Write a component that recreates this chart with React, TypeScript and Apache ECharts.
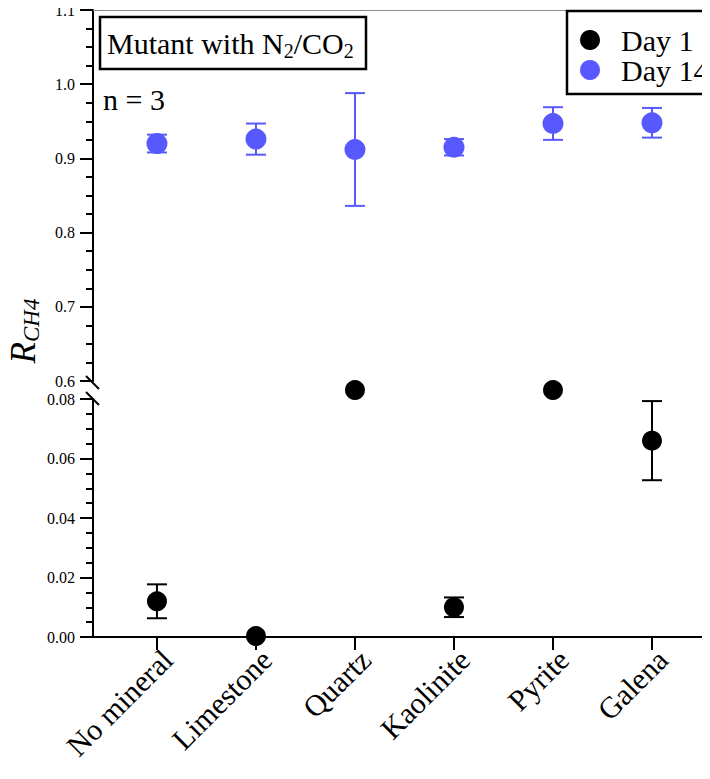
import React, { useEffect, useRef } from "react";
import * as echarts from "echarts";

const categories = ["No mineral", "Limestone", "Quartz", "Kaolinite", "Pyrite", "Galena"];
const categoryPositions = [1, 2, 3, 4, 5, 6];
// Day 1 (lower panel). Quartz and Pyrite sit on the axis break (off-scale).
const day1Mean = [0.012, 0.0003, 0.083, 0.01, 0.083, 0.066];
const day1Err = [0.0057, 0, 0, 0.0033, 0, 0.0133];
// Day 14 (upper panel)
const day14Mean = [0.92, 0.926, 0.912, 0.915, 0.947, 0.948];
const day14Err = [0.012, 0.021, 0.076, 0.011, 0.022, 0.02];
// axis ranges
const upperRange = [0.6, 1.1];
const upperStep = 0.1;
const lowerRange = [0, 0.08];
const lowerStep = 0.02;
const xRange = [0.354, 6.586];

const FONT = "'Liberation Serif', 'Times New Roman', Times, serif";
const BLUE = "#5858FF";
const BLACK = "#000000";

function errorBarSeries(name: string, color: string, mean: number[], err: number[], idx: number) {
  return {
    type: "custom",
    name,
    xAxisIndex: idx,
    yAxisIndex: idx,
    z: 1,
    clip: false,
    encode: { x: 0, y: 1 },
    data: categoryPositions.map((p, i) => [p, mean[i], err[i]]),
    renderItem: (params: any, api: any) => {
      const x = api.value(0);
      const y = api.value(1);
      const e = api.value(2);
      if (!e) return null;
      const t = api.coord([x, y + e]);
      const b = api.coord([x, y - e]);
      const w = 10;
      const st = { stroke: color, lineWidth: 2 };
      return {
        type: "group",
        children: [
          { type: "line", shape: { x1: t[0], y1: t[1], x2: b[0], y2: b[1] }, style: st },
          { type: "line", shape: { x1: t[0] - w, y1: t[1], x2: t[0] + w, y2: t[1] }, style: st },
          { type: "line", shape: { x1: b[0] - w, y1: b[1], x2: b[0] + w, y2: b[1] }, style: st },
        ],
      };
    },
  };
}

export default function App() {
  const ref = useRef<HTMLDivElement>(null);
  useEffect(() => {
    if (!ref.current) return;
    const chart = echarts.init(ref.current, null, { renderer: "svg" });
    const yLabelStyle = { color: BLACK, fontFamily: FONT, fontSize: 16, margin: 18 };
    const option: any = {
      animation: false,
      backgroundColor: "#fff",
      textStyle: { fontFamily: FONT },
      grid: [
        { left: 93, top: 10, width: 617, height: 371 },
        { left: 93, top: 399, width: 617, height: 238 },
      ],
      xAxis: [
        {
          type: "value",
          gridIndex: 0,
          position: "top",
          min: xRange[0],
          max: xRange[1],
          axisLine: { show: true, lineStyle: { color: "#8c8c8c", width: 1 } },
          axisTick: { show: false },
          axisLabel: { show: false },
          splitLine: { show: false },
        },
        {
          type: "value",
          gridIndex: 1,
          position: "bottom",
          min: xRange[0],
          max: xRange[1],
          axisLine: { show: true, onZero: false, lineStyle: { color: BLACK, width: 2 } },
          axisTick: { show: true, customValues: categoryPositions, length: 13, lineStyle: { color: BLACK, width: 2 } },
          axisLabel: {
            show: true,
            customValues: categoryPositions,
            rotate: 45,
            margin: 7,
            verticalAlign: "top",
            color: BLACK,
            fontFamily: FONT,
            fontSize: 30,
            formatter: (v: number) => categories[Math.round(v) - 1] ?? "",
          },
          splitLine: { show: false },
        },
      ],
      yAxis: [
        {
          type: "value",
          gridIndex: 0,
          min: upperRange[0],
          max: upperRange[1],
          interval: upperStep,
          axisLine: { show: true, onZero: false, lineStyle: { color: BLACK, width: 2 } },
          axisTick: { show: true, length: 13, lineStyle: { color: BLACK, width: 2 } },
          minorTick: { show: true, splitNumber: 4, length: 7, lineStyle: { color: BLACK, width: 2 } },
          axisLabel: { ...yLabelStyle, formatter: (v: number) => v.toFixed(1) },
          splitLine: { show: false },
        },
        {
          type: "value",
          gridIndex: 1,
          min: lowerRange[0],
          max: lowerRange[1],
          interval: lowerStep,
          axisLine: { show: true, onZero: false, lineStyle: { color: BLACK, width: 2 } },
          axisTick: { show: true, length: 13, lineStyle: { color: BLACK, width: 2 } },
          minorTick: { show: true, splitNumber: 4, length: 7, lineStyle: { color: BLACK, width: 2 } },
          axisLabel: { ...yLabelStyle, formatter: (v: number) => v.toFixed(2) },
          splitLine: { show: false },
        },
      ],
      legend: {
        data: ["Day 1", "Day 14"],
        orient: "vertical",
        left: 567,
        top: 11,
        padding: [14, 0, 10, 13],
        itemGap: 0,
        itemWidth: 20,
        itemHeight: 20,
        icon: "circle",
        borderWidth: 0,
        textStyle: { fontFamily: FONT, fontSize: 30, color: BLACK, padding: [0, 0, 0, 16] },
      },
      series: [
        errorBarSeries("Day 14 err", BLUE, day14Mean, day14Err, 0),
        errorBarSeries("Day 1 err", BLACK, day1Mean, day1Err, 1),
        {
          type: "scatter",
          name: "Day 1",
          xAxisIndex: 1,
          yAxisIndex: 1,
          z: 3,
          clip: false,
          symbolSize: 20,
          itemStyle: { color: BLACK, opacity: 1 },
          data: categoryPositions.map((p, i) => [p, day1Mean[i]]),
        },
        {
          type: "scatter",
          name: "Day 14",
          xAxisIndex: 0,
          yAxisIndex: 0,
          z: 3,
          clip: false,
          symbolSize: 21,
          itemStyle: { color: BLUE, opacity: 1 },
          data: categoryPositions.map((p, i) => [p, day14Mean[i]]),
        },
      ],
      graphic: [
        {
          type: "rect",
          shape: { x: 567, y: 11, width: 170, height: 83 },
          style: { fill: "none", stroke: BLACK, lineWidth: 2.5 },
          z: 10,
        },
        {
          type: "rect",
          shape: { x: 100, y: 17, width: 266, height: 52 },
          style: { fill: "none", stroke: BLACK, lineWidth: 2.5 },
          z: 10,
        },
        {
          type: "text",
          x: 107,
          y: 43,
          z: 10,
          style: {
            text: "{a|Mutant with N}{s|2}{a|/CO}{s|2}",
            verticalAlign: "middle",
            rich: {
              a: { fontFamily: FONT, fontSize: 30, lineHeight: 36, fill: BLACK },
              s: { fontFamily: FONT, fontSize: 20, lineHeight: 20, verticalAlign: "bottom", fill: BLACK },
            },
          },
        },
        {
          type: "text",
          x: 103,
          y: 99,
          z: 10,
          style: { text: "n = 3", fontFamily: FONT, fontSize: 30, fill: BLACK, verticalAlign: "middle" },
        },
        {
          type: "text",
          x: 23,
          y: 331,
          rotation: Math.PI / 2,
          z: 10,
          style: {
            text: "{r|R}{s|CH4}",
            align: "center",
            verticalAlign: "middle",
            rich: {
              r: { fontFamily: FONT, fontStyle: "italic", fontSize: 35, lineHeight: 40, fill: BLACK },
              s: { fontFamily: FONT, fontStyle: "italic", fontSize: 23, lineHeight: 24, verticalAlign: "bottom", fill: BLACK },
            },
          },
        },
        {
          type: "line",
          shape: { x1: 86, y1: 376, x2: 99, y2: 389 },
          style: { stroke: BLACK, lineWidth: 2 },
          z: 10,
        },
        {
          type: "line",
          shape: { x1: 86, y1: 392, x2: 99, y2: 405 },
          style: { stroke: BLACK, lineWidth: 2 },
          z: 10,
        },
      ],
    };
    chart.setOption(option);
    return () => chart.dispose();
  }, []);
  return <div ref={ref} style={{ width: 710, height: 779, margin: -8 }} />;
}
